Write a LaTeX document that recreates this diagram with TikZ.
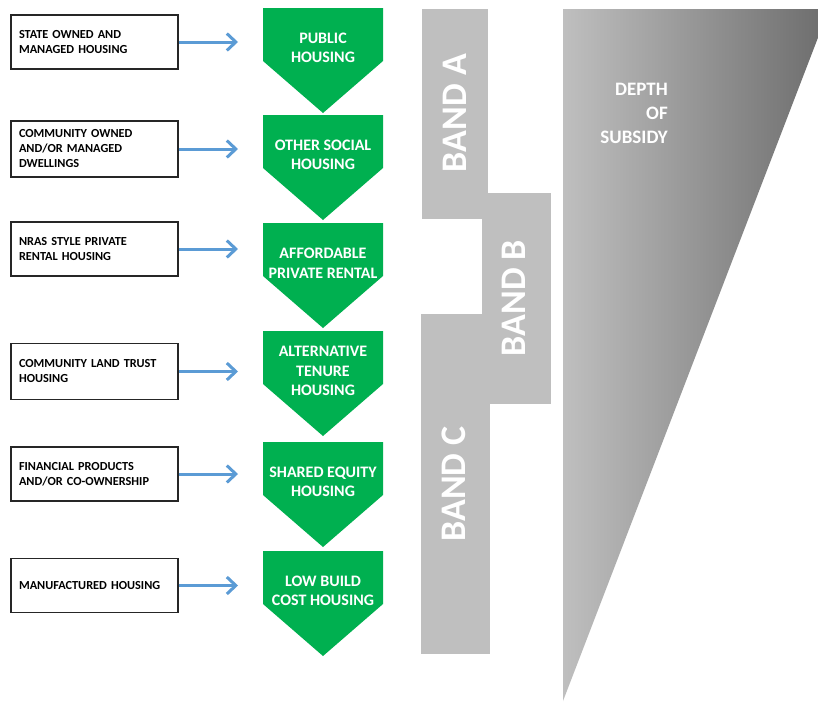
\documentclass[tikz,border=0pt]{standalone}
\usepackage{fontspec}
\setmainfont{Carlito}
\usetikzlibrary{arrows.meta}
\definecolor{gbox}{HTML}{00B050}
\definecolor{bandgray}{HTML}{BFBFBF}
\definecolor{darkgray}{HTML}{6C6C6C}
\definecolor{arrowblue}{HTML}{5B9BD5}
\definecolor{boxline}{HTML}{262626}
\tikzset{
  srcbox/.style={draw=boxline, line width=1.2pt, text width=151pt, inner xsep=8pt,
    minimum height=54pt, align=left, font=\bfseries\fontsize{12.3}{15}\selectfont, text=black},
  feedarrow/.style={draw=arrowblue, line width=3pt, -{Straight Barb[length=9pt,width=17pt,line width=3pt]}},
  pentfill/.style={fill=gbox, draw=none},
  penttext/.style={text=white, align=center, inner sep=0pt, font=\bfseries\fontsize{16}{19.5}\selectfont},
  bandrect/.style={fill=bandgray, draw=none},
  bandtext/.style={text=white, rotate=90, inner sep=0pt, font=\bfseries\fontsize{36}{40}\selectfont},
  depthtext/.style={text=white, align=right, inner sep=0pt, anchor=east, font=\bfseries\fontsize{19}{24}\selectfont}
}
\begin{document}
\begin{tikzpicture}[x=1pt,y=-1pt]
\useasboundingbox (0,0) rectangle (818,702);
\clip (0,0) rectangle (818,702);
\fill[white] (0,0) rectangle (818,702);

% depth of subsidy wedge
\shade[left color=bandgray, right color=darkgray] (563,9) -- (829,9) -- (563,701) -- cycle;
\node[depthtext] (depth) at (668,113) {DEPTH\\OF\\SUBSIDY};

% bands
\fill[bandrect] (422,9) rectangle (488,219);
\fill[bandrect] (482,193) rectangle (551,404);
\fill[bandrect] (421,314) rectangle (490,654);
\node[bandtext] (bandA) at (455,113) {BAND A};
\node[bandtext] (bandB) at (514,298) {BAND B};
\node[bandtext] (bandC) at (454,484) {BAND C};

% green pentagons
\foreach \t/\lbl/\nm in {8/{PUBLIC\\HOUSING}/p1, 115/{OTHER SOCIAL\\HOUSING}/p2, 223/{AFFORDABLE\\PRIVATE RENTAL}/p3, 331/{ALTERNATIVE\\TENURE\\HOUSING}/p4, 442/{SHARED EQUITY\\HOUSING}/p5, 551/{LOW BUILD\\COST HOUSING}/p6}{
  \fill[pentfill] (263,\t) -- (383,\t) -- (383,\t+53) -- (323,\t+105) -- (263,\t+53) -- cycle;
  \node[penttext] (\nm) at (323,\t+40) {\lbl};
}

% source boxes
\node[srcbox] (s1) at (94.5,42) {STATE OWNED AND\\MANAGED HOUSING};
\node[srcbox, minimum height=56pt] (s2) at (94.5,149) {COMMUNITY OWNED\\AND/OR MANAGED\\DWELLINGS};
\node[srcbox] (s3) at (94.5,249) {NRAS STYLE PRIVATE\\RENTAL HOUSING};
\node[srcbox, minimum height=56pt] (s4) at (94.5,371.5) {COMMUNITY LAND TRUST\\HOUSING};
\node[srcbox] (s5) at (94.5,474) {FINANCIAL PRODUCTS\\AND/OR CO-OWNERSHIP};
\node[srcbox] (s6) at (94.5,585.5) {MANUFACTURED HOUSING};

% arrow ends
\foreach \i/\y in {1/42, 2/149, 3/249, 4/371.5, 5/474, 6/585.5}{
  \coordinate (e\i) at (238,\y);
  \draw[feedarrow] (s\i.east) -- (e\i);
}
\end{tikzpicture}
\end{document}
